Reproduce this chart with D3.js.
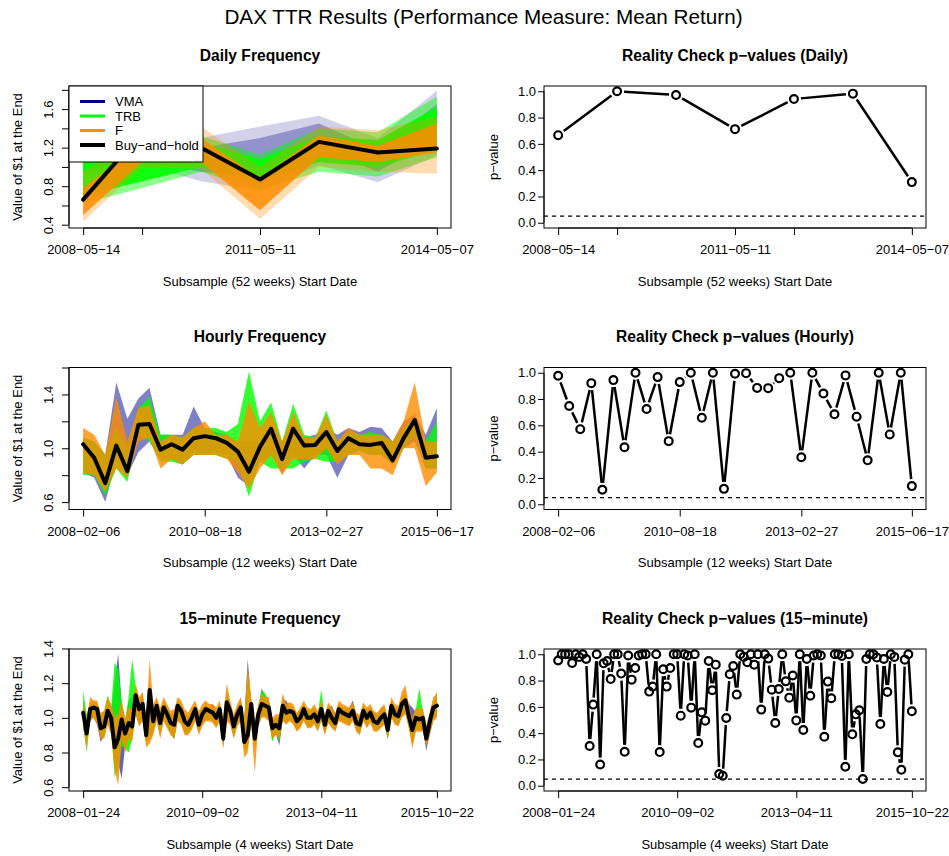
<!DOCTYPE html>
<html>
<head>
<meta charset="utf-8">
<title>DAX TTR Results</title>
<script src="https://cdnjs.cloudflare.com/ajax/libs/d3/7.8.5/d3.min.js"></script>
<style>
  body { margin: 0; background: #fff; }
  svg text { font-family: "Liberation Sans", Arial, Helvetica, sans-serif; fill: #000; }
</style>
</head>
<body>
<svg id="chart" width="949" height="856"></svg>
<script>
// ---- x axis ticks (subsample index) and labels ----
var dailyTicks = [0, 1, 3, 4, 6]
var dailyTickLabels = ["2008−05−14", "", "2011−05−11", "", "2014−05−07"]
var hourlyTicks = [0, 11, 22, 32]
var hourlyTickLabels = ["2008−02−06", "2010−08−18", "2013−02−27", "2015−06−17"]
var minTicks = [0, 34, 68, 101]
var minTickLabels = ["2008−01−24", "2010−09−02", "2013−04−11", "2015−10−22"]

// ---- y ticks ----
var dailyYTicks = [0.4, 0.6, 0.8, 1.0, 1.2, 1.4, 1.6, 1.8]
var dailyYLabels = ["0.4", "", "0.8", "", "1.2", "", "1.6", ""]
var hourlyYTicks = [0.6, 0.8, 1.0, 1.2, 1.4, 1.6]
var hourlyYLabels = ["0.6", "", "1.0", "", "1.4", ""]
var minYTicks = [0.6, 0.8, 1.0, 1.2, 1.4]
var minYLabels = ["0.6", "0.8", "1.0", "1.2", "1.4"]
var pTicks = [0, 0.2, 0.4, 0.6, 0.8, 1.0]
var pLabels = ["0.0", "0.2", "0.4", "0.6", "0.8", "1.0"]

var families = ["VMA", "TRB", "F"]
var famColors = ["#00008B", "#00FF00", "#FF8C00"]

// ---- daily (52 weeks) ----
var dailyBH = [0.66, 1.36, 1.20, 0.87, 1.26, 1.15, 1.19]
var dailyVmaLo = [0.92, 1.02, 0.85, 0.75, 1.02, 0.84, 1.12]
var dailyVmaHi = [1.08, 1.30, 1.30, 1.42, 1.53, 1.30, 1.79]
var dailyTrbLo = [0.62, 0.78, 0.95, 0.76, 0.95, 0.90, 1.10]
var dailyTrbHi = [1.18, 1.25, 1.32, 1.13, 1.40, 1.36, 1.73]
var dailyFLo = [0.43, 1.00, 0.98, 0.46, 1.00, 0.95, 0.93]
var dailyFHi = [0.95, 1.35, 1.42, 1.00, 1.42, 1.38, 1.52]
var dailyVmaCoreLo = [0.95, 1.05, 0.95, 0.90, 1.20, 0.95, 1.30]
var dailyVmaCoreHi = [1.05, 1.20, 1.20, 1.30, 1.45, 1.18, 1.65]
var dailyTrbCoreLo = [0.70, 0.85, 1.00, 0.86, 1.05, 1.00, 1.18]
var dailyTrbCoreHi = [1.05, 1.15, 1.25, 1.08, 1.32, 1.28, 1.62]
var dailyFCoreLo = [0.50, 1.05, 1.05, 0.55, 1.10, 1.05, 1.15]
var dailyFCoreHi = [0.78, 1.25, 1.30, 0.88, 1.33, 1.22, 1.45]
var dailyP = [0.666, 1.0, 0.972, 0.712, 0.941, 0.982, 0.309]

// ---- hourly (12 weeks) ----
var hourlyBH = [1.03, 0.93, 0.74, 1.02, 0.83, 1.175, 1.18, 0.99, 1.03, 0.99, 1.075,
  1.09, 1.075, 1.04, 0.975, 0.825, 1.01, 1.145, 0.92, 1.145, 1.02, 1.025,
  1.12, 0.98, 1.075, 1.03, 1.025, 1.04, 0.91, 1.075, 1.21, 0.93, 0.94]
var hourlyVmaLo = [0.82, 0.78, 0.60, 0.90, 0.80, 0.97, 1.05, 0.92, 0.92, 0.88, 0.98,
  0.95, 0.98, 0.95, 0.78, 0.72, 0.90, 0.95, 0.82, 0.95, 0.85, 0.95,
  0.95, 0.78, 0.95, 0.98, 0.95, 0.95, 0.88, 1.00, 1.05, 0.85, 0.85]
var hourlyVmaHi = [1.08, 1.05, 0.95, 1.49, 1.22, 1.37, 1.45, 1.10, 1.10, 1.10, 1.31,
  1.15, 1.12, 1.10, 1.05, 1.05, 1.05, 1.18, 1.05, 1.20, 1.08, 1.10,
  1.15, 1.10, 1.15, 1.12, 1.16, 1.15, 1.05, 1.20, 1.25, 1.10, 1.30]
var hourlyTrbLo = [0.80, 0.80, 0.65, 0.85, 0.75, 1.10, 1.05, 0.90, 0.90, 0.88, 0.95,
  0.95, 0.95, 0.92, 0.90, 0.64, 0.90, 0.85, 0.85, 0.85, 0.90, 0.92,
  0.90, 0.90, 0.95, 0.98, 0.95, 0.95, 0.88, 1.00, 1.10, 0.85, 0.85]
var hourlyTrbHi = [1.08, 1.05, 0.95, 1.15, 1.00, 1.30, 1.38, 1.10, 1.10, 1.08, 1.15,
  1.15, 1.15, 1.12, 1.18, 1.57, 1.20, 1.34, 1.05, 1.33, 1.10, 1.08,
  1.28, 1.05, 1.12, 1.10, 1.12, 1.10, 1.05, 1.15, 1.22, 1.05, 1.20]
var hourlyFLo = [0.82, 0.80, 0.68, 0.85, 0.78, 1.05, 1.08, 0.85, 0.92, 0.88, 0.95,
  0.95, 0.95, 0.92, 0.82, 0.70, 0.85, 0.95, 0.80, 0.92, 0.92, 0.92,
  1.00, 0.88, 0.95, 0.95, 0.85, 0.85, 0.80, 1.00, 1.00, 0.72, 0.82]
var hourlyFHi = [1.15, 1.10, 0.95, 1.38, 1.05, 1.30, 1.32, 1.05, 1.10, 1.08, 1.15,
  1.20, 1.10, 1.10, 1.05, 1.35, 1.15, 1.27, 1.05, 1.27, 1.08, 1.08,
  1.25, 1.05, 1.15, 1.10, 1.10, 1.10, 1.05, 1.20, 1.49, 1.05, 1.05]
var hourlyP = [0.977, 0.747, 0.571, 0.921, 0.110, 0.944, 0.434, 1.0, 0.724, 0.967, 0.480,
  0.929, 1.0, 0.658, 1.0, 0.117, 0.992, 0.997, 0.885, 0.883, 0.959, 1.0,
  0.357, 1.0, 0.842, 0.684, 0.980, 0.666, 0.334, 1.0, 0.531, 1.0, 0.138]

// ---- 15-minute (4 weeks) ----
var minBH = [1.03, 0.91, 1.05, 1.06, 1.05, 0.94, 0.95, 1.04, 1.00, 0.83,
  0.88, 0.99, 0.91, 0.97, 0.95, 1.13, 1.05, 1.08, 0.90, 1.16,
  0.98, 1.07, 0.97, 1.06, 1.02, 0.97, 0.96, 1.07, 1.04, 0.98,
  0.96, 1.00, 1.05, 0.96, 1.02, 1.05, 1.04, 1.03, 1.00, 1.05,
  0.88, 1.09, 1.04, 0.95, 1.02, 1.06, 0.86, 0.90, 1.08, 0.88,
  1.02, 1.08, 1.07, 1.06, 0.94, 0.96, 0.94, 1.07, 1.03, 1.04,
  1.03, 0.98, 1.00, 1.05, 1.00, 1.00, 1.02, 0.98, 1.05, 0.96,
  1.04, 1.00, 0.97, 1.05, 1.03, 1.02, 1.01, 1.04, 0.97, 0.96,
  1.04, 1.00, 1.03, 0.98, 0.97, 1.00, 1.02, 0.93, 1.07, 1.02,
  1.01, 1.08, 1.10, 1.01, 0.93, 1.00, 0.99, 1.00, 0.88, 0.98,
  1.06, 1.07]
var minVmaLo = [0.94, 0.84, 0.99, 1.00, 0.96, 0.86, 0.90, 0.97, 0.92, 0.72,
  0.74, 0.65, 0.84, 0.88, 0.90, 1.02, 0.96, 0.99, 0.86, 0.88,
  0.92, 0.99, 0.90, 0.99, 0.95, 0.91, 0.88, 0.99, 0.97, 0.92,
  0.92, 0.94, 0.99, 0.92, 0.96, 0.99, 0.99, 0.98, 0.95, 0.99,
  0.84, 0.99, 0.97, 0.89, 0.96, 0.99, 0.82, 0.84, 0.97, 0.84,
  0.96, 1.01, 1.01, 0.99, 0.88, 0.91, 0.84, 0.99, 0.97, 0.99,
  0.97, 0.93, 0.95, 0.99, 0.95, 0.95, 0.97, 0.93, 0.99, 0.91,
  0.97, 0.95, 0.93, 0.99, 0.98, 0.97, 0.96, 0.99, 0.93, 0.91,
  0.99, 0.95, 0.98, 0.93, 0.93, 0.95, 0.97, 0.88, 1.01, 0.97,
  0.96, 1.01, 1.03, 0.95, 0.86, 0.93, 0.93, 0.93, 0.81, 0.91,
  0.99, 1.01]
var minVmaHi = [1.10, 1.00, 1.08, 1.08, 1.06, 1.00, 1.02, 1.10, 1.04, 1.20,
  1.37, 1.08, 0.98, 1.10, 1.12, 1.16, 1.08, 1.12, 0.98, 1.18,
  1.05, 1.08, 1.03, 1.08, 1.05, 1.01, 1.02, 1.08, 1.07, 1.02,
  1.00, 1.04, 1.07, 1.02, 1.05, 1.07, 1.06, 1.08, 1.04, 1.07,
  0.98, 1.14, 1.06, 1.00, 1.06, 1.10, 0.98, 1.34, 1.08, 0.96,
  1.05, 1.17, 1.12, 1.10, 0.98, 1.00, 1.00, 1.10, 1.10, 1.06,
  1.05, 1.02, 1.04, 1.07, 1.04, 1.04, 1.06, 1.03, 1.08, 1.01,
  1.06, 1.07, 1.02, 1.07, 1.06, 1.05, 1.06, 1.10, 1.02, 1.01,
  1.06, 1.05, 1.06, 1.03, 1.02, 1.05, 1.06, 0.99, 1.08, 1.06,
  1.05, 1.10, 1.12, 1.08, 1.06, 1.03, 1.03, 1.04, 0.95, 1.01,
  1.08, 1.12]
var minTrbLo = [0.96, 0.80, 0.99, 1.00, 0.97, 0.89, 0.89, 0.97, 0.92, 0.66,
  0.70, 0.84, 0.82, 0.80, 0.88, 1.02, 0.96, 0.99, 0.85, 0.88,
  0.92, 0.99, 0.90, 0.99, 0.95, 0.91, 0.88, 0.99, 0.97, 0.91,
  0.91, 0.94, 0.99, 0.92, 0.96, 0.99, 0.99, 0.98, 0.95, 0.99,
  0.84, 0.99, 0.97, 0.89, 0.96, 0.99, 0.80, 0.83, 0.97, 0.82,
  0.96, 1.01, 1.01, 0.99, 0.86, 0.91, 0.86, 0.99, 0.97, 0.99,
  0.97, 0.93, 0.95, 0.99, 0.95, 0.95, 0.97, 0.93, 0.99, 0.91,
  0.98, 0.95, 0.93, 0.99, 0.98, 0.97, 0.96, 0.99, 0.93, 0.91,
  0.99, 0.95, 0.98, 0.93, 0.93, 0.95, 0.97, 0.88, 1.01, 0.97,
  0.96, 1.01, 1.03, 0.95, 0.84, 0.93, 0.93, 0.93, 0.86, 0.91,
  0.99, 1.01]
var minTrbHi = [1.16, 1.02, 1.08, 1.10, 1.08, 1.02, 1.04, 1.13, 1.06, 1.32,
  1.28, 1.10, 0.98, 1.12, 1.34, 1.18, 1.10, 1.14, 0.98, 1.20,
  1.06, 1.10, 1.04, 1.10, 1.06, 1.02, 1.03, 1.10, 1.08, 1.02,
  1.01, 1.05, 1.08, 1.02, 1.06, 1.08, 1.06, 1.06, 1.04, 1.08,
  0.98, 1.16, 1.08, 1.00, 1.06, 1.10, 0.98, 1.26, 1.10, 0.96,
  1.06, 1.16, 1.14, 1.10, 0.98, 1.00, 1.00, 1.12, 1.06, 1.07,
  1.06, 1.02, 1.05, 1.08, 1.05, 1.04, 1.06, 1.03, 1.16, 1.01,
  1.07, 1.05, 1.02, 1.08, 1.06, 1.06, 1.05, 1.08, 1.02, 1.01,
  1.07, 1.05, 1.06, 1.03, 1.02, 1.05, 1.06, 0.99, 1.10, 1.06,
  1.06, 1.12, 1.14, 1.06, 0.99, 1.05, 1.17, 1.04, 0.95, 1.02,
  1.10, 1.15]
var minFLo = [0.95, 0.82, 0.98, 1.00, 0.96, 0.88, 0.88, 0.96, 0.90, 0.70,
  0.61, 0.88, 0.80, 0.88, 0.86, 1.02, 0.95, 0.98, 0.83, 0.85,
  0.90, 0.98, 0.88, 0.98, 0.94, 0.90, 0.88, 0.98, 0.96, 0.90,
  0.90, 0.93, 0.98, 0.90, 0.95, 0.98, 0.98, 0.97, 0.94, 0.98,
  0.82, 0.98, 0.96, 0.88, 0.95, 0.98, 0.77, 0.80, 0.96, 0.68,
  0.95, 1.00, 1.00, 0.98, 0.88, 0.90, 0.88, 0.98, 0.96, 0.98,
  0.96, 0.92, 0.94, 0.98, 0.94, 0.94, 0.96, 0.92, 0.98, 0.90,
  0.97, 0.94, 0.92, 0.98, 0.97, 0.96, 0.95, 0.98, 0.92, 0.90,
  0.98, 0.94, 0.97, 0.92, 0.92, 0.94, 0.96, 0.88, 1.00, 0.96,
  0.95, 1.00, 1.02, 0.94, 0.82, 0.92, 0.92, 0.92, 0.83, 0.90,
  0.98, 1.00]
var minFHi = [1.10, 1.00, 1.12, 1.10, 1.10, 1.03, 1.04, 1.12, 1.08, 1.00,
  1.02, 1.10, 1.00, 1.06, 1.05, 1.20, 1.12, 1.15, 1.00, 1.34,
  1.08, 1.12, 1.06, 1.12, 1.08, 1.04, 1.05, 1.12, 1.10, 1.05,
  1.03, 1.07, 1.10, 1.04, 1.08, 1.10, 1.08, 1.08, 1.06, 1.10,
  1.00, 1.20, 1.10, 1.02, 1.08, 1.12, 1.00, 1.30, 1.12, 0.98,
  1.08, 1.14, 1.12, 1.12, 1.00, 1.02, 1.02, 1.14, 1.08, 1.09,
  1.08, 1.03, 1.06, 1.10, 1.06, 1.05, 1.08, 1.04, 1.10, 1.02,
  1.09, 1.06, 1.03, 1.10, 1.08, 1.07, 1.06, 1.09, 1.03, 1.02,
  1.09, 1.06, 1.08, 1.04, 1.03, 1.06, 1.08, 1.00, 1.12, 1.08,
  1.07, 1.15, 1.19, 1.08, 1.00, 1.06, 1.05, 1.06, 0.96, 1.04,
  1.12, 1.14]
var minP = [0.952, 1.0, 1.0, 1.0, 0.934, 1.0, 0.980, 1.0, 0.964, 0.302,
  0.617, 1.0, 0.162, 0.931, 0.949, 0.812, 1.0, 1.0, 0.853, 0.259,
  0.990, 0.807, 0.896, 0.990, 1.0, 1.0, 0.716, 0.754, 1.0, 0.256,
  0.886, 0.754, 0.896, 1.0, 1.0, 0.533, 1.0, 0.990, 0.594, 1.0,
  0.325, 0.558, 0.495, 0.949, 0.726, 0.921, 0.089, 0.076, 0.515, 0.848,
  0.911, 0.693, 1.0, 0.980, 0.939, 1.0, 0.921, 1.0, 0.579, 1.0,
  0.967, 0.731, 0.477, 0.736, 1.0, 0.794, 0.670, 0.838, 0.497, 1.0,
  0.424, 0.964, 0.685, 0.990, 1.0, 0.990, 0.373, 0.792, 0.665, 1.0,
  1.0, 0.987, 0.145, 1.0, 0.391, 0.543, 0.574, 0.051, 0.964, 1.0,
  1.0, 0.975, 0.470, 0.964, 0.713, 1.0, 0.980, 0.254, 0.122, 0.959,
  1.0, 0.566]

// ---- layout ----
var svg = d3.select("#chart")
var colLeft = [69, 544]
var boxW = 382
var rowTop = [86, 367.5, 649]
var boxH = 142
var FONT = 13

svg.append("text")
  .attr("x", 483.5).attr("y", 16)
  .attr("text-anchor", "middle").attr("dominant-baseline", "central")
  .style("font-size", "20.7px")
  .text("DAX TTR Results (Performance Measure: Mean Return)")

function frame(p) {
  var g = p.g
  g.append("rect")
    .attr("x", p.x0).attr("y", p.y0).attr("width", boxW).attr("height", boxH)
    .attr("fill", "none").attr("stroke", "#000").attr("stroke-width", 1)

  var xa = g.append("g")
    .attr("transform", "translate(0," + (p.y0 + boxH) + ")")
    .call(d3.axisBottom(p.x).tickValues(p.xTicks)
      .tickFormat((d, i) => p.xLabels[i]).tickSize(7).tickSizeOuter(0).tickPadding(10))
  xa.select(".domain").remove()
  xa.append("line")
    .attr("x1", p.x(p.xTicks[0])).attr("x2", p.x(p.xTicks[p.xTicks.length - 1]))
    .attr("stroke", "#000")
  xa.attr("font-size", FONT).attr("font-family", null)
  xa.selectAll(".tick line").attr("stroke", "#000")

  var ya = g.append("g")
    .attr("transform", "translate(" + p.x0 + ",0)")
    .call(d3.axisLeft(p.y).tickValues(p.yTicks)
      .tickFormat((d, i) => p.yLabels[i]).tickSize(p.rotateY ? 7 : 6).tickSizeOuter(0).tickPadding(2))
  ya.select(".domain").remove()
  ya.append("line")
    .attr("y1", p.y(p.yTicks[0])).attr("y2", p.y(p.yTicks[p.yTicks.length - 1]))
    .attr("stroke", "#000")
  ya.attr("font-size", FONT).attr("font-family", null)
  ya.selectAll(".tick line").attr("stroke", "#000")
  if (p.rotateY) {
    ya.selectAll(".tick text")
      .attr("x", null).attr("dy", "0.35em")
      .attr("text-anchor", "middle")
      .attr("transform", "translate(-20.5,0) rotate(-90)")
  }

  g.append("text")
    .attr("x", p.x0 + boxW / 2).attr("y", p.y0 - 31)
    .attr("text-anchor", "middle").attr("dominant-baseline", "central")
    .style("font-size", "15.6px").style("font-weight", "bold")
    .text(p.title)
  g.append("text")
    .attr("x", p.x0 + boxW / 2).attr("y", p.y0 + boxH + 53)
    .attr("text-anchor", "middle").attr("dominant-baseline", "central")
    .style("font-size", FONT + "px")
    .text(p.xTitle)
  g.append("text")
    .attr("transform", "translate(" + (p.x0 - p.yTitleOff) + "," + (p.y0 + boxH / 2) + ") rotate(-90)")
    .attr("text-anchor", "middle").attr("dominant-baseline", "central")
    .style("font-size", FONT + "px")
    .text(p.yTitle)
}

function xScaleFor(n, x0) {
  return d3.scaleLinear().domain([-0.04 * (n - 1), 1.04 * (n - 1)]).range([x0, x0 + boxW])
}

function strategyPanel(row, cfg) {
  var x0 = colLeft[0], y0 = rowTop[row]
  var g = svg.append("g")
  var x = xScaleFor(cfg.bh.length, x0)
  var y = d3.scaleLinear().domain(cfg.yDomain).range([y0 + boxH, y0])
  var clipId = "clip" + row
  g.append("clipPath").attr("id", clipId).append("rect")
    .attr("x", x0).attr("y", y0).attr("width", boxW).attr("height", boxH)
  var plot = g.append("g").attr("clip-path", "url(#" + clipId + ")")
  var area = d3.area().x((d, i) => x(i)).y0(d => y(d[0])).y1(d => y(d[1]))

  cfg.bands.forEach(function(b, k) {
    plot.append("path").datum(d3.zip(b.lo, b.hi))
      .attr("d", area).attr("fill", famColors[k]).attr("fill-opacity", b.op)
    if (b.coreLo) {
      plot.append("path").datum(d3.zip(b.coreLo, b.coreHi))
        .attr("d", area).attr("fill", famColors[k]).attr("fill-opacity", b.coreOp)
    }
  })
  plot.append("path").datum(cfg.bh)
    .attr("d", d3.line().x((d, i) => x(i)).y(d => y(d)))
    .attr("fill", "none").attr("stroke", "#000").attr("stroke-width", 4)
    .attr("stroke-linejoin", "round").attr("stroke-linecap", "round")

  frame({g: g, x0: x0, y0: y0, x: x, y: y, xTicks: cfg.xTicks, xLabels: cfg.xLabels,
    yTicks: cfg.yTicks, yLabels: cfg.yLabels, rotateY: true, title: cfg.title,
    xTitle: cfg.xTitle, yTitle: "Value of $1 at the End", yTitleOff: 52})

  if (cfg.legend) {
    var lg = g.append("g")
    lg.append("rect").attr("x", x0).attr("y", y0).attr("width", 134).attr("height", 76)
      .attr("fill", "#fff").attr("stroke", "#000")
    var names = families.concat(["Buy−and−hold"])
    var cols = famColors.concat(["#000"])
    names.forEach(function(nm, i) {
      var ly = y0 + 15.5 + i * 14.5
      lg.append("line").attr("x1", x0 + 11).attr("x2", x0 + 36).attr("y1", ly).attr("y2", ly)
        .attr("stroke", cols[i]).attr("stroke-width", i == 3 ? 4 : 3)
      lg.append("text").attr("x", x0 + 46).attr("y", ly).attr("dominant-baseline", "central")
        .style("font-size", FONT + "px").text(nm)
    })
  }
}

function pvaluePanel(row, cfg) {
  var x0 = colLeft[1], y0 = rowTop[row]
  var g = svg.append("g")
  var x = xScaleFor(cfg.p.length, x0)
  var y = d3.scaleLinear().domain([-0.04, 1.04]).range([y0 + boxH, y0])

  g.append("line").attr("x1", x0).attr("x2", x0 + boxW)
    .attr("y1", y(0.05)).attr("y2", y(0.05))
    .attr("stroke", "#000").attr("stroke-width", 1.1).attr("stroke-dasharray", "4,4")

  // type = "b": segments stop short of each point
  var gap = 7
  var pts = cfg.p.map((v, i) => [x(i), y(v)])
  var segs = d3.pairs(pts).filter(function(s) {
    return Math.hypot(s[1][0] - s[0][0], s[1][1] - s[0][1]) > 2 * gap
  })
  g.selectAll("line.seg").data(segs).join("line").attr("class", "seg")
    .each(function(s) {
      var dx = s[1][0] - s[0][0], dy = s[1][1] - s[0][1]
      var d = Math.hypot(dx, dy), ux = dx / d, uy = dy / d
      d3.select(this)
        .attr("x1", s[0][0] + ux * gap).attr("y1", s[0][1] + uy * gap)
        .attr("x2", s[1][0] - ux * gap).attr("y2", s[1][1] - uy * gap)
    })
    .attr("stroke", "#000").attr("stroke-width", 2.5)
  g.selectAll("circle").data(cfg.p).join("circle")
    .attr("cx", (d, i) => x(i)).attr("cy", d => y(d)).attr("r", 3.9)
    .attr("fill", "none").attr("stroke", "#000").attr("stroke-width", 2.2)

  frame({g: g, x0: x0, y0: y0, x: x, y: y, xTicks: cfg.xTicks, xLabels: cfg.xLabels,
    yTicks: pTicks, yLabels: pLabels, rotateY: false, title: cfg.title,
    xTitle: cfg.xTitle, yTitle: "p−value", yTitleOff: 51})
}

strategyPanel(0, {
  title: "Daily Frequency", xTitle: "Subsample (52 weeks) Start Date",
  bh: dailyBH, yDomain: [0.366, 1.84], yTicks: dailyYTicks, yLabels: dailyYLabels,
  xTicks: dailyTicks, xLabels: dailyTickLabels, legend: true,
  bands: [
    {lo: dailyVmaLo, hi: dailyVmaHi, coreLo: dailyVmaCoreLo, coreHi: dailyVmaCoreHi, op: 0.18, coreOp: 0.3},
    {lo: dailyTrbLo, hi: dailyTrbHi, coreLo: dailyTrbCoreLo, coreHi: dailyTrbCoreHi, op: 0.45, coreOp: 0.9},
    {lo: dailyFLo, hi: dailyFHi, coreLo: dailyFCoreLo, coreHi: dailyFCoreHi, op: 0.3, coreOp: 0.85}
  ]
})
strategyPanel(1, {
  title: "Hourly Frequency", xTitle: "Subsample (12 weeks) Start Date",
  bh: hourlyBH, yDomain: [0.545, 1.6], yTicks: hourlyYTicks, yLabels: hourlyYLabels,
  xTicks: hourlyTicks, xLabels: hourlyTickLabels,
  bands: [
    {lo: hourlyVmaLo, hi: hourlyVmaHi, op: 0.5},
    {lo: hourlyTrbLo, hi: hourlyTrbHi, op: 0.8},
    {lo: hourlyFLo, hi: hourlyFHi, op: 0.8}
  ]
})
strategyPanel(2, {
  title: "15−minute Frequency", xTitle: "Subsample (4 weeks) Start Date",
  bh: minBH, yDomain: [0.578, 1.397], yTicks: minYTicks, yLabels: minYLabels,
  xTicks: minTicks, xLabels: minTickLabels,
  bands: [
    {lo: minVmaLo, hi: minVmaHi, op: 0.6},
    {lo: minTrbLo, hi: minTrbHi, op: 0.85},
    {lo: minFLo, hi: minFHi, op: 0.85}
  ]
})

pvaluePanel(0, {title: "Reality Check p−values (Daily)", xTitle: "Subsample (52 weeks) Start Date",
  p: dailyP, xTicks: dailyTicks, xLabels: dailyTickLabels})
pvaluePanel(1, {title: "Reality Check p−values (Hourly)", xTitle: "Subsample (12 weeks) Start Date",
  p: hourlyP, xTicks: hourlyTicks, xLabels: hourlyTickLabels})
pvaluePanel(2, {title: "Reality Check p−values (15−minute)", xTitle: "Subsample (4 weeks) Start Date",
  p: minP, xTicks: minTicks, xLabels: minTickLabels})
</script>
</body>
</html>
